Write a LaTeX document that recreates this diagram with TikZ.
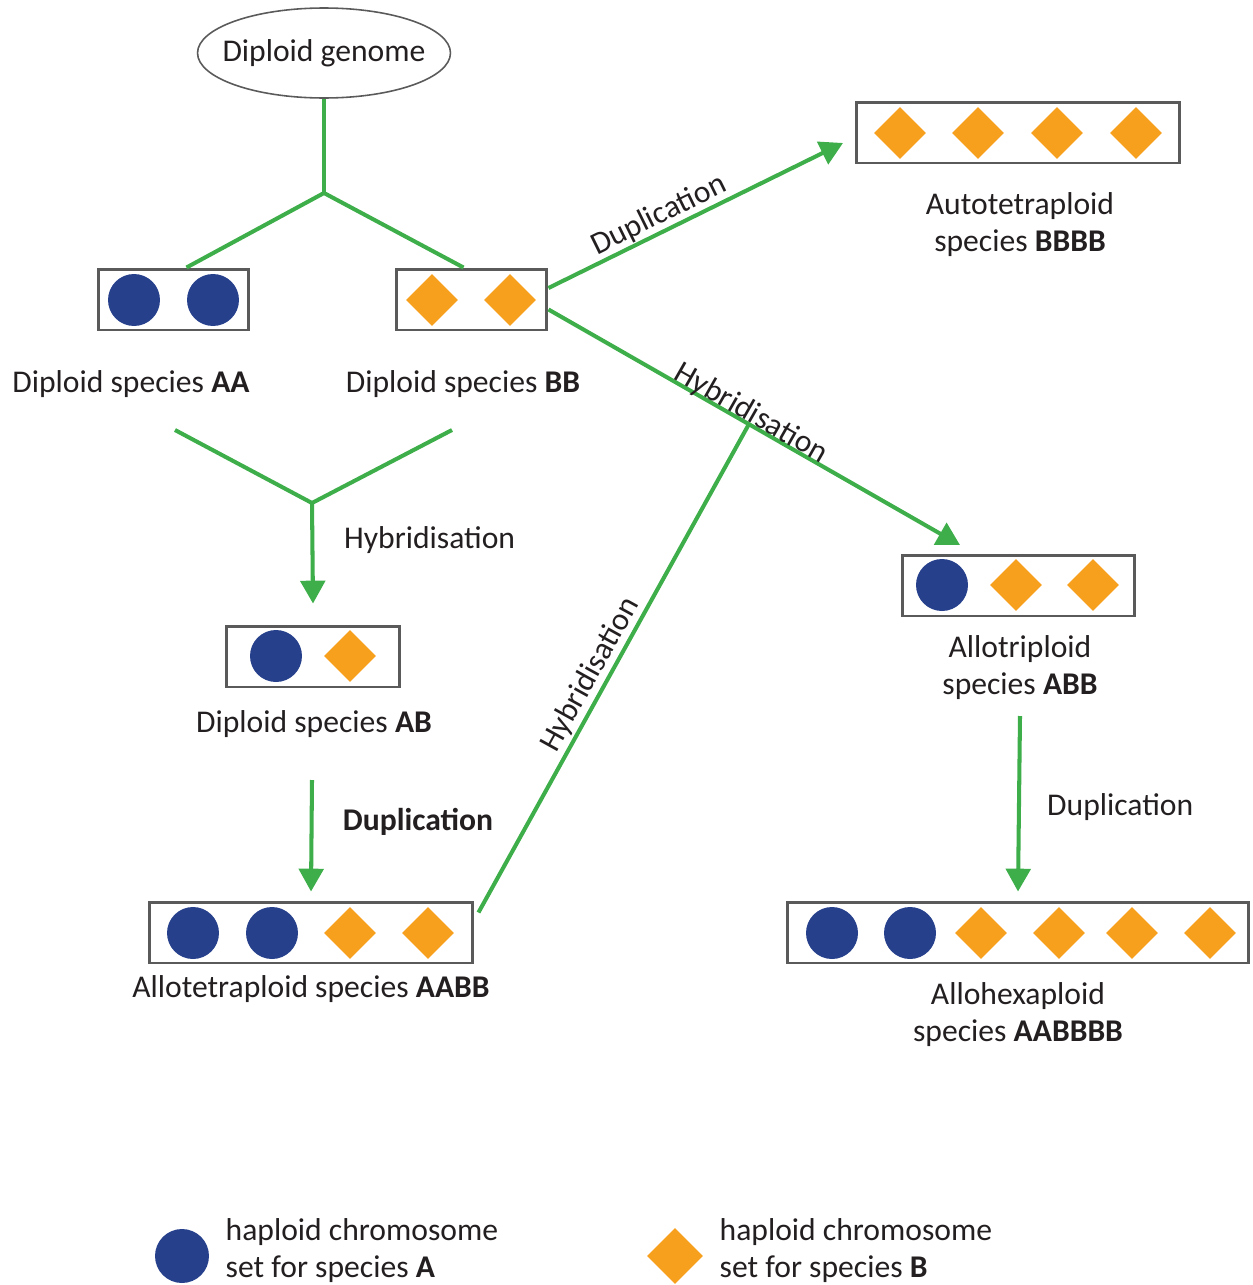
\documentclass[tikz,border=0pt]{standalone}
\usepackage{fontspec}
\setmainfont{Carlito}
\usetikzlibrary{arrows.meta}
\usetikzlibrary{positioning}
\usetikzlibrary{shapes.geometric}
\usetikzlibrary{calc}

\definecolor{chromblue}{RGB}{38,64,140}
\definecolor{chromorange}{RGB}{247,160,30}
\definecolor{linkgreen}{RGB}{61,174,73}
\definecolor{boxgray}{RGB}{90,90,90}
\definecolor{inkblack}{RGB}{35,31,32}

\tikzset{
  setbox/.style={draw=boxgray, line width=1.7pt, minimum height=1.22cm, inner sep=0pt},
  chromA/.style={circle, fill=chromblue, minimum size=1.04cm, inner sep=0pt},
  chromB/.style={diamond, fill=chromorange, minimum width=1.04cm, minimum height=1.04cm, inner sep=0pt},
  link/.style={draw=linkgreen, line width=2.3pt},
  linkarrow/.style={link, -{Triangle[length=13pt,width=14pt]}},
  caption/.style={align=center, text=inkblack, font=\fontsize{18}{21}\selectfont, inner sep=0pt},
  steplabel/.style={text=inkblack, font=\fontsize{18}{21}\selectfont}
}

\begin{document}
\begin{tikzpicture}[x=0.02cm, y=-0.02cm]
        \useasboundingbox (0,0) rectangle (1252,1285);

        % parent genome
        \node [ellipse, draw=boxgray, line width=0.9pt, minimum width=5.06cm, minimum height=1.8cm,
               inner sep=0pt] (genome) at (324,53) {};
        \node [caption] (genometext) at (genome.center) {Diploid genome};

        % diploid species
        \node [setbox, minimum width=3.02cm] (AA) at (173.5,299.5) {};
        \node [chromA] (AA-1) at (134,300) {};
        \node [chromA] (AA-2) at (213,300) {};
        \node [caption] (capAA) at (131,384) {Diploid species \textbf{AA}};

        \node [setbox, minimum width=3.02cm] (BB) at (471.5,299.5) {};
        \node [chromB] (BB-1) at (432,300) {};
        \node [chromB] (BB-2) at (510,300) {};
        \node [caption] (capBB) at (463,384) {Diploid species \textbf{BB}};

        % autotetraploid
        \node [setbox, minimum width=6.48cm] (BBBB) at (1018,132.5) {};
        \foreach \x [count=\i] in {900,978,1057,1136}
            \node [chromB] (BBBB-\i) at (\x,133) {};
        \node [caption] (capBBBB) at (1020,225) {Autotetraploid\\species \textbf{BBBB}};

        % diploid hybrid
        \node [setbox, minimum width=3.48cm] (AB) at (313,656.5) {};
        \node [chromA] (AB-1) at (276,656) {};
        \node [chromB] (AB-2) at (350,656) {};
        \node [caption] (capAB) at (314,724) {Diploid species \textbf{AB}};

        % allotetraploid
        \node [setbox, minimum width=6.48cm] (AABB) at (311,932.5) {};
        \foreach \x [count=\i] in {193,272}
            \node [chromA] (AABB-\i) at (\x,933) {};
        \foreach \x [count=\i from 3] in {350,428}
            \node [chromB] (AABB-\i) at (\x,933) {};
        \node [caption] (capAABB) at (311,989) {Allotetraploid species \textbf{AABB}};

        % allotriploid
        \node [setbox, minimum width=4.66cm] (ABB) at (1018.5,585.5) {};
        \node [chromA] (ABB-1) at (942,585) {};
        \node [chromB] (ABB-2) at (1016,585) {};
        \node [chromB] (ABB-3) at (1093,585) {};
        \node [caption] (capABB) at (1020,668) {Allotriploid\\species \textbf{ABB}};

        % allohexaploid
        \node [setbox, minimum width=9.24cm] (AABBBB) at (1018,932.5) {};
        \foreach \x [count=\i] in {832,910}
            \node [chromA] (AABBBB-\i) at (\x,933) {};
        \foreach \x [count=\i from 3] in {981,1059,1132,1210}
            \node [chromB] (AABBBB-\i) at (\x,933) {};
        \node [caption] (capAABBBB) at (1018,1015) {Allohexaploid\\species \textbf{AABBBB}};

        % legend
        \node [chromA, minimum size=1.08cm] (legA) at (182,1256) {};
        \node [caption, align=left, anchor=west] (legAtext) [right = 0.32cm of legA.east, yshift=0.1cm] {haploid chromosome\\set for species \textbf{A}};
        \node [chromB, minimum width=1.12cm, minimum height=1.12cm] (legB) at (675,1256) {};
        \node [caption, align=left, anchor=west] (legBtext) [right = 0.32cm of legB.east, yshift=0.1cm] {haploid chromosome\\set for species \textbf{B}};

        % junction points
        \coordinate (split) at (324,193);
        \coordinate (merge) at (312,503);
        \coordinate (mergeAA) at (175,430);
        \coordinate (mergeBB) at (452,430);
        \coordinate (dupAB) at (312,780);
        \coordinate (dupABB) at (1020,716);
        \coordinate (hybstart) at ([yshift=-0.2cm] BB.east);
        \coordinate (hybtip) at (960,545);
        \coordinate (duptip) at (843,143);
        \coordinate (hybjoin) at ($(hybstart)!0.487!(hybtip)$);

        \draw [link] (genome.south) -- (split);
        \draw [link] ($(AA.north)+(13,0)$) -- (split) -- ($(BB.north)+(-8,0)$);
        \draw [link] (mergeAA) -- (merge) -- (mergeBB);

        \draw [linkarrow] (merge) -- ($(AB.north)+(0,-21)$);
        \draw [linkarrow] (dupAB) -- ($(AABB.north)+(0,-9)$);
        \draw [linkarrow] (dupABB) -- ($(AABBBB.north)+(0,-9)$);
        \draw [linkarrow] ([yshift=0.23cm] BB.east) -- (duptip)
            node [steplabel, sloped, above, pos=0.4, inner sep=0.5pt] {Duplication};
        \draw [linkarrow] (hybstart) -- (hybtip)
            node [steplabel, sloped, above, pos=0.48, inner sep=0pt, yshift=-3pt] {Hybridisation};
        \draw [link] ([yshift=0.4cm, xshift=0.08cm] AABB.east) -- (hybjoin)
            node [steplabel, sloped, above, pos=0.47, inner sep=1pt] {Hybridisation};

        \node [steplabel, anchor=west] (hyblabel) at (338,540) {Hybridisation};
        \node [steplabel, font=\fontsize{18}{21}\selectfont\bfseries] (duplabel) at (418,822) {Duplication};
        \node [steplabel, anchor=west] (duplabelR) at (1041,807) {Duplication};
\end{tikzpicture}
\end{document}
